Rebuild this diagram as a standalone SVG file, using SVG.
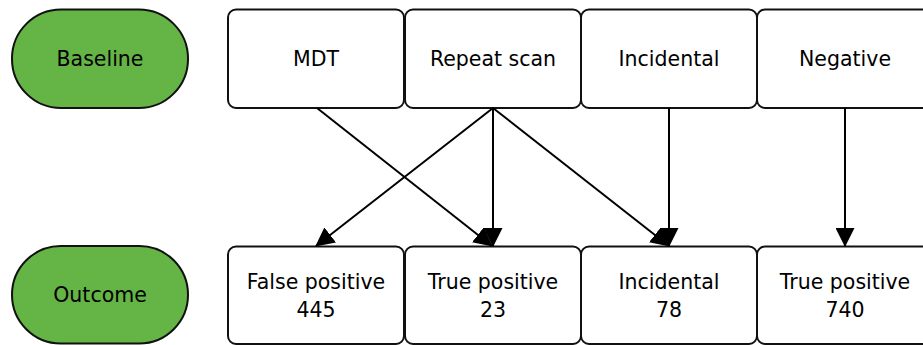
<svg xmlns="http://www.w3.org/2000/svg" width="923" height="345" viewBox="0 0 923 345">
<defs>
<style>
.box{fill:#ffffff;stroke:#111111;stroke-width:2}
.pill{fill:#65b446;stroke:#111111;stroke-width:2}
.t{font-family:"DejaVu Sans",sans-serif;font-size:20.5px;fill:#000000;text-anchor:middle}
.c{fill:none;stroke:#000000;stroke-width:2}
</style>
<marker id="ah" markerUnits="userSpaceOnUse" markerWidth="19" markerHeight="19" viewBox="0 0 19 19" refX="18" refY="9.5" orient="auto">
<path d="M0,0 L19,9.5 L0,19 z" fill="#000000"/>
</marker>
</defs>
<g id="baseline"><rect class="pill" x="12" y="9.5" width="176" height="98.5" rx="49" ry="49"/><text class="t" x="100" y="66">Baseline</text></g>
<g id="mdt"><rect class="box" x="228" y="9.5" width="176" height="98.5" rx="8" ry="8"/><text class="t" x="316" y="66">MDT</text></g>
<g id="repeat"><rect class="box" x="405" y="9.5" width="176" height="98.5" rx="8" ry="8"/><text class="t" x="493" y="66">Repeat scan</text></g>
<g id="incidental"><rect class="box" x="581" y="9.5" width="176" height="98.5" rx="8" ry="8"/><text class="t" x="669" y="66">Incidental</text></g>
<g id="negative"><rect class="box" x="757" y="9.5" width="176" height="98.5" rx="8" ry="8"/><text class="t" x="845" y="66">Negative</text></g>
<g id="outcome"><rect class="pill" x="12" y="246" width="176" height="97.5" rx="48.75" ry="48.75"/><text class="t" x="100" y="302">Outcome</text></g>
<g id="falsepos"><rect class="box" x="228" y="246.5" width="176" height="97.5" rx="8" ry="8"/><text class="t" x="316" y="289">False positive</text><text class="t" x="316" y="316.5">445</text></g>
<g id="truepos1"><rect class="box" x="405" y="246.5" width="176" height="97.5" rx="8" ry="8"/><text class="t" x="493" y="289">True positive</text><text class="t" x="493" y="316.5">23</text></g>
<g id="incid2"><rect class="box" x="581" y="246.5" width="176" height="97.5" rx="8" ry="8"/><text class="t" x="669" y="289">Incidental</text><text class="t" x="669" y="316.5">78</text></g>
<g id="truepos2"><rect class="box" x="757" y="246.5" width="176" height="97.5" rx="8" ry="8"/><text class="t" x="845" y="289">True positive</text><text class="t" x="845" y="316.5">740</text></g>
<g id="connectors">
<line class="c" x1="317" y1="108" x2="492" y2="246" marker-end="url(#ah)"/>
<line class="c" x1="493" y1="108" x2="316" y2="246" marker-end="url(#ah)"/>
<line class="c" x1="493" y1="108" x2="493" y2="246" marker-end="url(#ah)"/>
<line class="c" x1="493" y1="108" x2="669" y2="246" marker-end="url(#ah)"/>
<line class="c" x1="669" y1="108" x2="669" y2="246" marker-end="url(#ah)"/>
<line class="c" x1="845" y1="108" x2="845" y2="246" marker-end="url(#ah)"/>
</g>
</svg>
